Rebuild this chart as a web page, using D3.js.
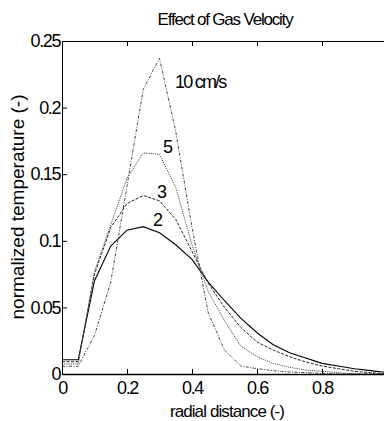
<!DOCTYPE html>
<html>
<head>
<meta charset="utf-8">
<script src="https://cdn.jsdelivr.net/npm/d3@7"></script>
<style>
  body { margin: 0; background: #fff; }
  svg { display: block; font-family: "Liberation Sans", Arial, sans-serif; }
  .tick text { font-size: 18px; letter-spacing: -1.4px; }
</style>
</head>
<body>
<div id="chart"></div>
<script>
// radial positions (-)
const radial = [0, 0.05, 0.1, 0.15, 0.2, 0.25, 0.3, 0.35, 0.4, 0.45, 0.5,
  0.55, 0.6, 0.65, 0.7, 0.75, 0.8, 0.85, 0.9, 0.95, 1.0];

// normalized temperature for each gas velocity
const v2 = [0.0107, 0.0107, 0.07, 0.096, 0.108, 0.1106, 0.106, 0.097, 0.086, 0.069, 0.055,
  0.042, 0.031, 0.022, 0.016, 0.012, 0.008, 0.006, 0.004, 0.0025, 0.001];
const v3 = [0.0092, 0.0092, 0.075, 0.11, 0.128, 0.134, 0.13, 0.116, 0.092, 0.068, 0.05,
  0.035, 0.024, 0.018, 0.013, 0.009, 0.006, 0.004, 0.002, 0.001, 0];
const v5 = [0.0075, 0.0075, 0.077, 0.112, 0.147, 0.166, 0.165, 0.14, 0.097, 0.062, 0.04,
  0.021, 0.013, 0.008, 0.005, 0.003, 0.002, 0.001, 0, 0, 0];
const v10 = [0.0058, 0.0058, 0.029, 0.069, 0.141, 0.2137, 0.237, 0.182, 0.11, 0.046, 0.018,
  0.006, 0.004, 0.0025, 0.0015, 0.001, 0.0005, 0, 0, 0, 0];

const seriesNames = ['2', '3', '5', '10 cm/s'];
const xTicks = [0, 0.2, 0.4, 0.6, 0.8];
const yTicks = [0, 0.05, 0.1, 0.15, 0.2, 0.25];
const yTickLabels = ['0', '0.05', '0.1', '0.15', '0.2', '0.25'];

// label anchors (radial, value) for curve annotations
const labelAt = [[0.28, 0.111], [0.292, 0.132], [0.311, 0.166], [0.348, 0.2147]];

const width = 384, height = 421;
const margin = { top: 41, right: -3, bottom: 47, left: 62 };
const innerW = width - margin.left - margin.right;
const innerH = height - margin.top - margin.bottom;

const svg = d3.select('#chart').append('svg')
  .attr('width', width).attr('height', height);

const g = svg.append('g')
  .attr('transform', 'translate(' + margin.left + ',' + margin.top + ')');

const x = d3.scaleLinear().domain([0, 1]).range([0, innerW]);
const y = d3.scaleLinear().domain([0, 0.25]).range([innerH, 0]);

// curves
const styles = [
  { stroke: '#000', dash: null, w: 1.1 },
  { stroke: '#222', dash: '3,1.5', w: 1 },
  { stroke: '#555', dash: '1.2,1', w: 1 },
  { stroke: '#333', dash: '3,1.5,1,1.5', w: 0.9 }
];
const line = d3.line().x((d, i) => x(radial[i])).y(d => y(d));

[v2, v3, v5, v10].forEach((s, k) => {
  g.append('path')
    .datum(s)
    .attr('fill', 'none')
    .attr('stroke', styles[k].stroke)
    .attr('stroke-width', styles[k].w)
    .attr('stroke-dasharray', styles[k].dash)
    .attr('d', line);
});

// curve labels
seriesNames.forEach((name, k) => {
  g.append('text')
    .attr('x', x(labelAt[k][0]))
    .attr('y', y(labelAt[k][1]))
    .attr('font-size', 18)
    .attr('letter-spacing', k === 3 ? '-1.8px' : '0')
    .text(name);
});

// axes (MATLAB-style box with inward ticks)
g.append('g')
  .attr('transform', 'translate(0,' + innerH + ')')
  .call(d3.axisBottom(x).tickValues(xTicks).tickSizeInner(-5).tickSizeOuter(0)
    .tickPadding(7).tickFormat(d3.format('')))
  .call(a => a.select('.domain').attr('stroke-width', 1.3));

g.append('g')
  .call(d3.axisTop(x).tickValues(xTicks.slice(1)).tickSizeInner(-5).tickSizeOuter(0)
    .tickFormat(''));

g.append('g')
  .call(d3.axisLeft(y).tickValues(yTicks).tickSizeInner(-5).tickSizeOuter(0)
    .tickPadding(2).tickFormat((d, i) => yTickLabels[i]));

svg.selectAll('.tick text').attr('fill', '#000');
svg.selectAll('.domain, .tick line').attr('stroke', '#000');

// title and axis labels
svg.append('text')
  .attr('x', 225).attr('y', 25)
  .attr('text-anchor', 'middle')
  .attr('font-size', 17).attr('letter-spacing', '-1.2px')
  .text('Effect of Gas Velocity');

svg.append('text')
  .attr('x', 227).attr('y', 417)
  .attr('text-anchor', 'middle')
  .attr('font-size', 17).attr('letter-spacing', '-0.9px')
  .text('radial distance (-)');

svg.append('text')
  .attr('transform', 'translate(24,207) rotate(-90)')
  .attr('text-anchor', 'middle')
  .attr('font-size', 19)
  .text('normalized temperature (-)');
</script>
</body>
</html>
